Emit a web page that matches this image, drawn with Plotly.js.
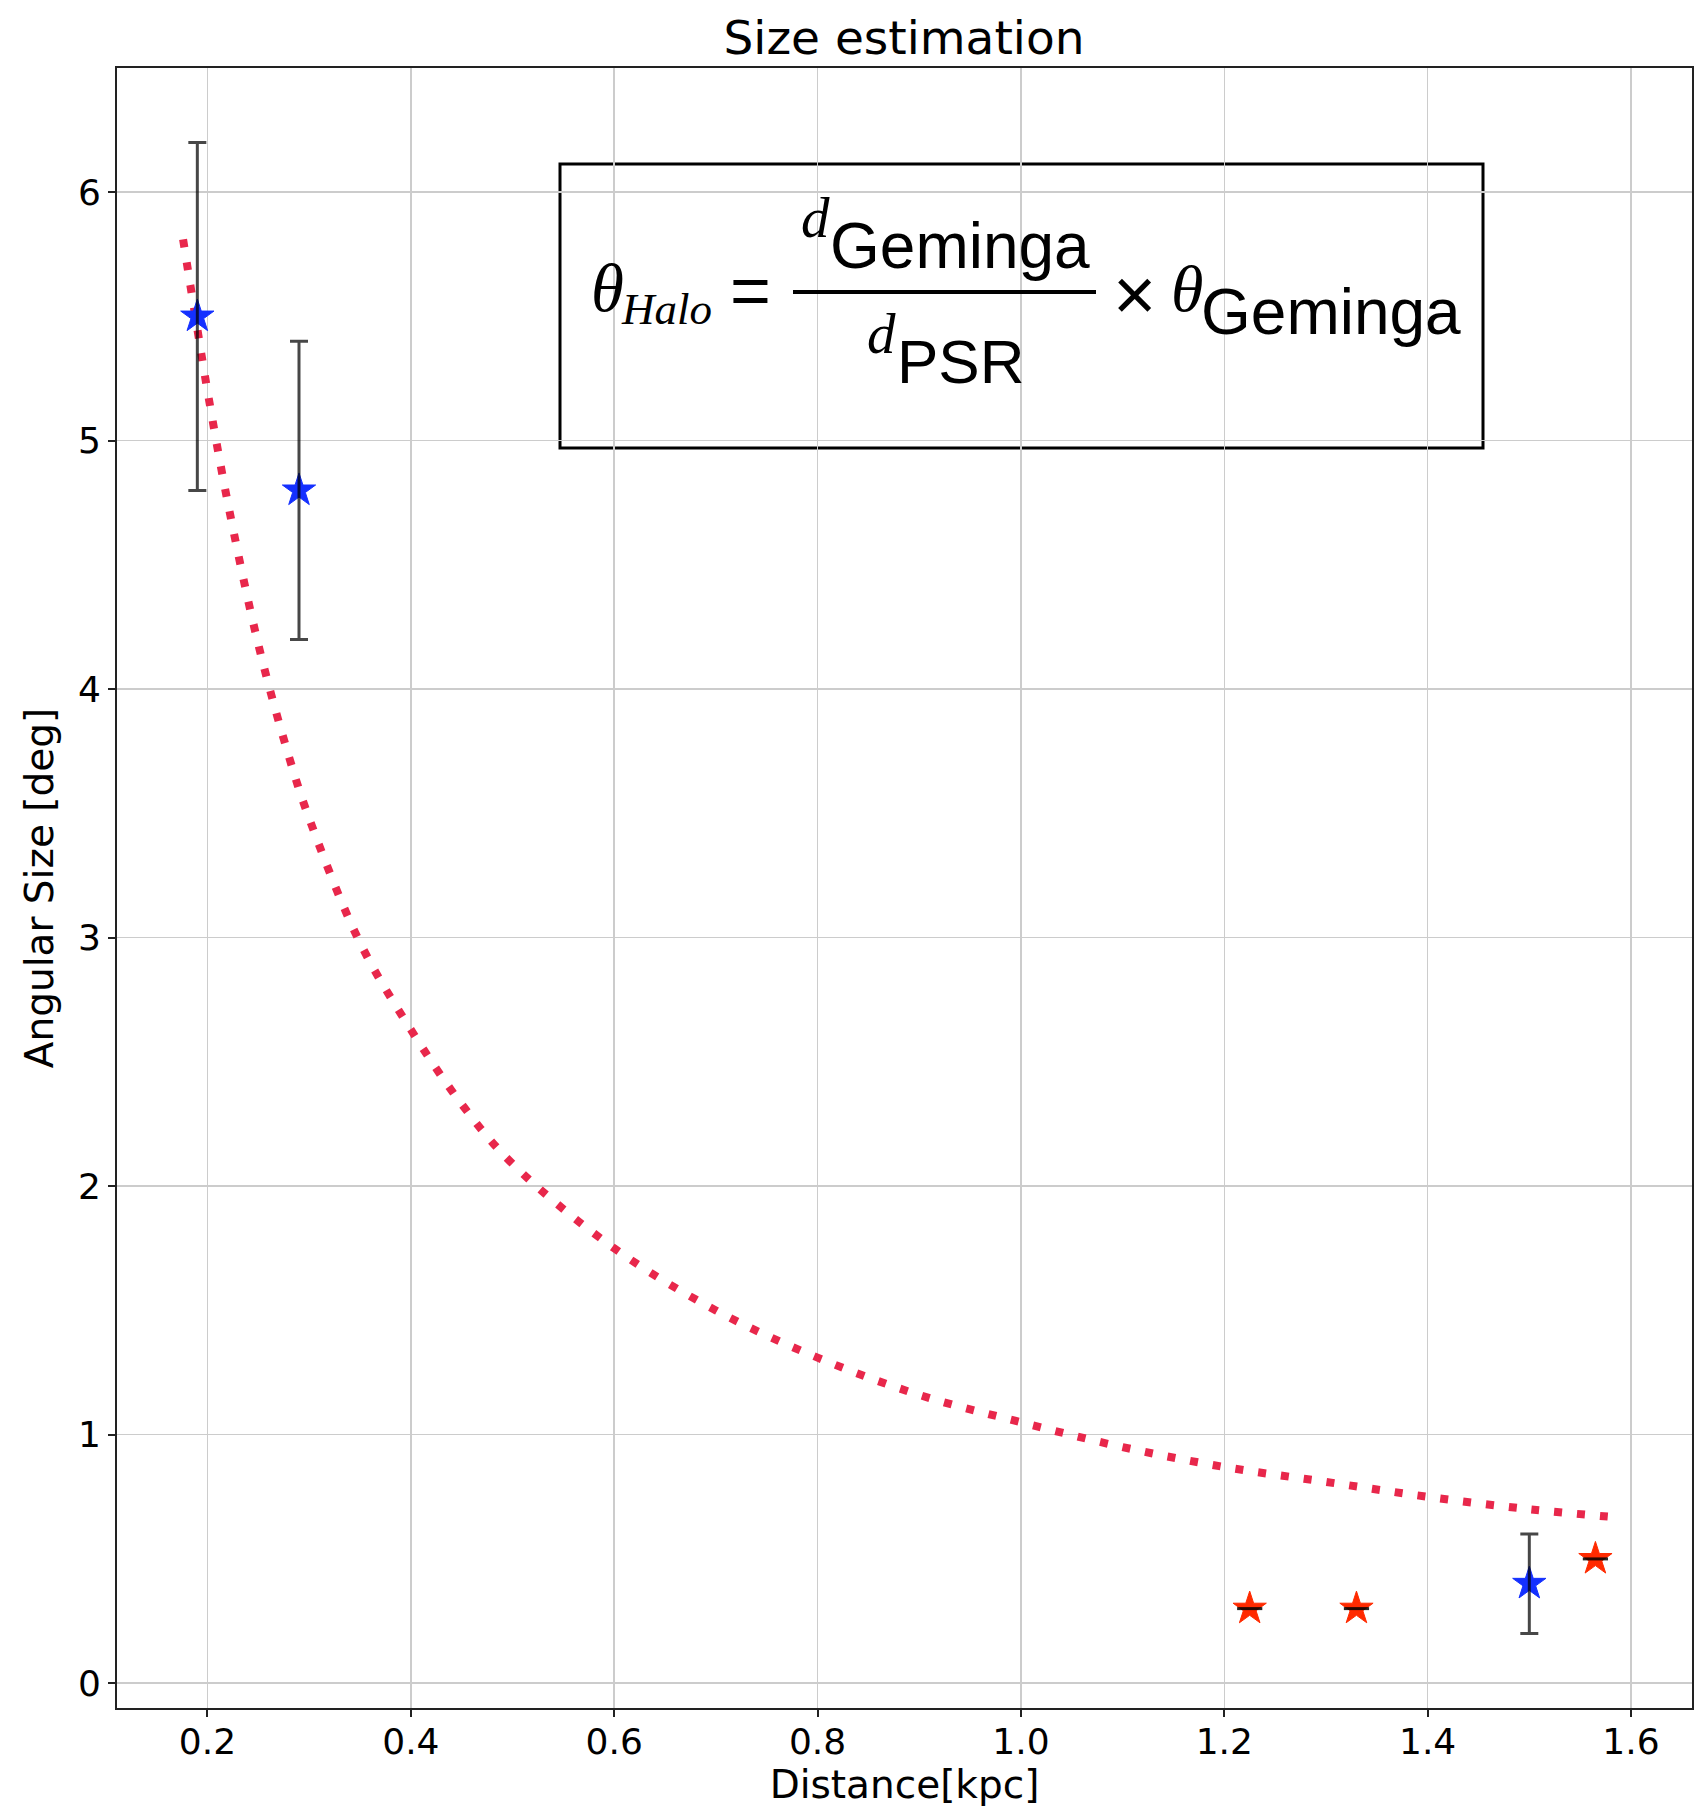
<!DOCTYPE html>
<html>
<head>
<meta charset="utf-8">
<script src="https://cdn.plot.ly/plotly-3.0.1.min.js"></script>
<style>html,body{margin:0;padding:0;background:#fff;}</style>
</head>
<body>
<div id="chart" style="width:1694px;height:1809px;"></div>
<script>
// Scaled-distance curve
const curveDist = [0.176, 0.19, 0.20, 0.22, 0.25, 0.28, 0.30, 0.35, 0.40, 0.45, 0.50, 0.60, 0.70, 0.80, 0.90, 1.00, 1.10, 1.20, 1.30, 1.40, 1.50, 1.592];
const curveSize = [5.81, 5.45, 5.20, 4.75, 4.18, 3.73, 3.48, 2.98, 2.63, 2.33, 2.09, 1.75, 1.50, 1.31, 1.16, 1.05, 0.95, 0.87, 0.81, 0.75, 0.70, 0.665];

// Measured halos (blue) with error bars
const blueDist = [0.19, 0.29, 1.50];
const blueSize = [5.5, 4.8, 0.4];
const blueErr = [0.7, 0.6, 0.2];

// Estimated halos (red)
const redDist = [1.225, 1.33, 1.565];
const redSize = [0.3, 0.3, 0.5];

const xTicks = [0.2, 0.4, 0.6, 0.8, 1.0, 1.2, 1.4, 1.6];
const yTicks = [0, 1, 2, 3, 4, 5, 6];

const W = 1694, H = 1809;
const M = {l: 117, r: 2, t: 68, b: 101};
const PW = W - M.l - M.r, PH = H - M.t - M.b;
const xp = px => (px - M.l) / PW;
const yp = py => (H - M.b - py) / PH;

const traces = [
  {
    x: curveDist, y: curveSize, type: 'scatter', mode: 'lines',
    line: {color: '#e8274b', width: 8, dash: '8px,15px', shape: 'spline'},
    hoverinfo: 'skip', showlegend: false
  },
  {
    x: blueDist, y: blueSize, type: 'scatter', mode: 'markers',
    marker: {symbol: 'star', size: 25, color: '#1430ff', line: {color: '#1430ff', width: 1}},
    showlegend: false
  },
  {
    x: blueDist, y: blueSize, type: 'scatter', mode: 'markers',
    marker: {size: 1, opacity: 0},
    error_y: {type: 'data', array: blueErr, visible: true, color: 'rgba(0,0,0,0.72)', thickness: 3, width: 9},
    showlegend: false, hoverinfo: 'skip'
  },
  {
    x: redDist, y: redSize, type: 'scatter', mode: 'markers',
    marker: {symbol: 'star', size: 25, color: '#ff2a00', line: {color: '#ff2a00', width: 1}},
    showlegend: false
  },
  {
    x: redDist, y: redSize, type: 'scatter', mode: 'markers',
    marker: {symbol: 'line-ew', size: 18, line: {color: 'rgba(0,0,0,0.85)', width: 3}},
    showlegend: false, hoverinfo: 'skip'
  }
];

const sans = 'DejaVu Sans, sans-serif';
const lsans = 'Liberation Sans, Arial, sans-serif';
const serif = 'Liberation Serif, Times New Roman, serif';

function ann(text, px, py, size, family) {
  return {text: text, xref: 'paper', yref: 'paper', x: xp(px), y: yp(py),
    xanchor: 'center', yanchor: 'middle', showarrow: false,
    font: {size: size, family: family, color: '#000'}};
}

const annotations = [
  ann('<i>θ</i>', 607, 288, 67, serif),
  ann('<i>Halo</i>', 666, 309, 45, serif),
  ann('=', 750, 291, 70, lsans),
  ann('<i>d</i>', 815, 218, 57, serif),
  ann('Geminga', 960, 246, 64, lsans),
  ann('<i>d</i>', 881, 333, 57, serif),
  ann('PSR', 961, 361, 62, lsans),
  ann('×', 1134, 294, 74, lsans),
  ann('<i>θ</i>', 1187, 288, 66, serif),
  ann('Geminga', 1331, 312, 64, lsans)
];

const shapes = [
  {type: 'rect', xref: 'paper', yref: 'paper', x0: xp(560), x1: xp(1483), y0: yp(448), y1: yp(164),
    line: {color: '#000', width: 3}, fillcolor: 'rgba(255,255,255,1)', layer: 'below'},
  {type: 'line', xref: 'paper', yref: 'paper', x0: xp(793), x1: xp(1096), y0: yp(292), y1: yp(292),
    line: {color: '#000', width: 4}}
];

const layout = {
  width: W, height: H,
  margin: M,
  paper_bgcolor: '#fff', plot_bgcolor: '#fff',
  font: {family: sans, color: '#000'},
  title: {text: 'Size estimation', font: {size: 47, family: sans, color: '#000'},
    x: xp(904), xref: 'paper', xanchor: 'center', y: 1 - 38 / H, yref: 'container', yanchor: 'middle'},
  xaxis: {
    range: [0.111, 1.66], tickvals: xTicks, ticktext: xTicks.map(v => v.toFixed(1)),
    showgrid: true, gridcolor: '#cccccc', gridwidth: 1.5, zeroline: false,
    showline: true, linecolor: '#222', linewidth: 2, mirror: true,
    ticks: 'outside', ticklen: 7, tickwidth: 2, tickcolor: '#222',
    ticklabelstandoff: -6,
    tickfont: {size: 36, family: sans, color: '#000'},
    title: {text: 'Distance[kpc]', font: {size: 39, family: sans, color: '#000'}, standoff: 8}
  },
  yaxis: {
    range: [-0.1, 6.5], tickvals: yTicks, ticktext: yTicks.map(String),
    showgrid: true, gridcolor: '#cccccc', gridwidth: 1.5, zeroline: false,
    showline: true, linecolor: '#222', linewidth: 2, mirror: true,
    ticks: 'outside', ticklen: 7, tickwidth: 2, tickcolor: '#222',
    tickfont: {size: 36, family: sans, color: '#000'},
    title: {text: 'Angular Size [deg]', font: {size: 39, family: sans, color: '#000'}, standoff: 12}
  },
  annotations: annotations,
  shapes: shapes,
  showlegend: false
};

Plotly.newPlot('chart', traces, layout, {displayModeBar: false, staticPlot: true});
</script>
</body>
</html>
